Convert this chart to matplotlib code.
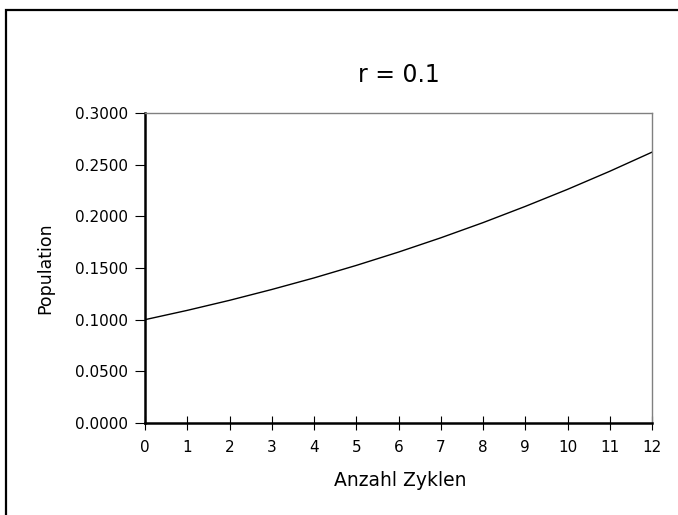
import matplotlib
matplotlib.use("Agg")
import matplotlib.pyplot as plt
from matplotlib.patches import Rectangle

plt.rcParams["font.family"] = ["DejaVu Sans"]

# logistic growth, r = 0.1, x0 = 0.1
cycles = [0, 1, 2, 3, 4, 5, 6, 7, 8, 9, 10, 11, 12]
population = [0.1000, 0.1090, 0.1187, 0.1292, 0.1404, 0.1525, 0.1654,
              0.1792, 0.1939, 0.2096, 0.2261, 0.2436, 0.2621]
yticks = [0.0, 0.05, 0.10, 0.15, 0.20, 0.25, 0.30]

W, H = 678, 515
L, R, T, B = 145, 652, 113, 423   # plot area in pixels
fig = plt.figure(figsize=(W / 100, H / 100), dpi=100)
ax = fig.add_axes([L / W, 1 - B / H, (R - L) / W, (B - T) / H])

ax.plot(cycles, population, color="black", lw=1.0)
ax.set_xlim(0, 12)
ax.set_ylim(0, 0.3)
ax.set_xticks(cycles)
ax.set_yticks(yticks)
ax.set_yticklabels([f"{v:.4f}" for v in yticks])

for s in ("left", "bottom"):
    ax.spines[s].set_linewidth(1.8)
    ax.spines[s].set_color("black")
for s in ("top", "right"):
    ax.spines[s].set_linewidth(1.0)
    ax.spines[s].set_color("#808080")

ax.tick_params(axis="x", direction="inout", length=10, width=0.8, labelsize=11, pad=7)
ax.tick_params(axis="y", direction="out", length=7, width=0.8, labelsize=11, pad=5)

ax.set_title("r = 0.1", fontsize=17, y=(B - 75) / (B - T), va="center", pad=0)
ax.set_xlabel("Anzahl Zyklen", fontsize=13.5)
ax.xaxis.set_label_coords((400 - L) / (R - L), (B - 481) / (B - T))
ax.xaxis.label.set_va("center")
ax.set_ylabel("Population", fontsize=12.5)
ax.yaxis.set_label_coords((45 - L) / (R - L), (B - 268) / (B - T))
ax.yaxis.label.set_va("center")

# outer chart border (runs off the right/bottom edge)
fig.patches.append(Rectangle((6 / W, -0.05), 1.2, 1 - 10 / H + 0.05,
                             transform=fig.transFigure, fill=False,
                             edgecolor="black", lw=1.6))

fig.savefig("out.png", dpi=100)
